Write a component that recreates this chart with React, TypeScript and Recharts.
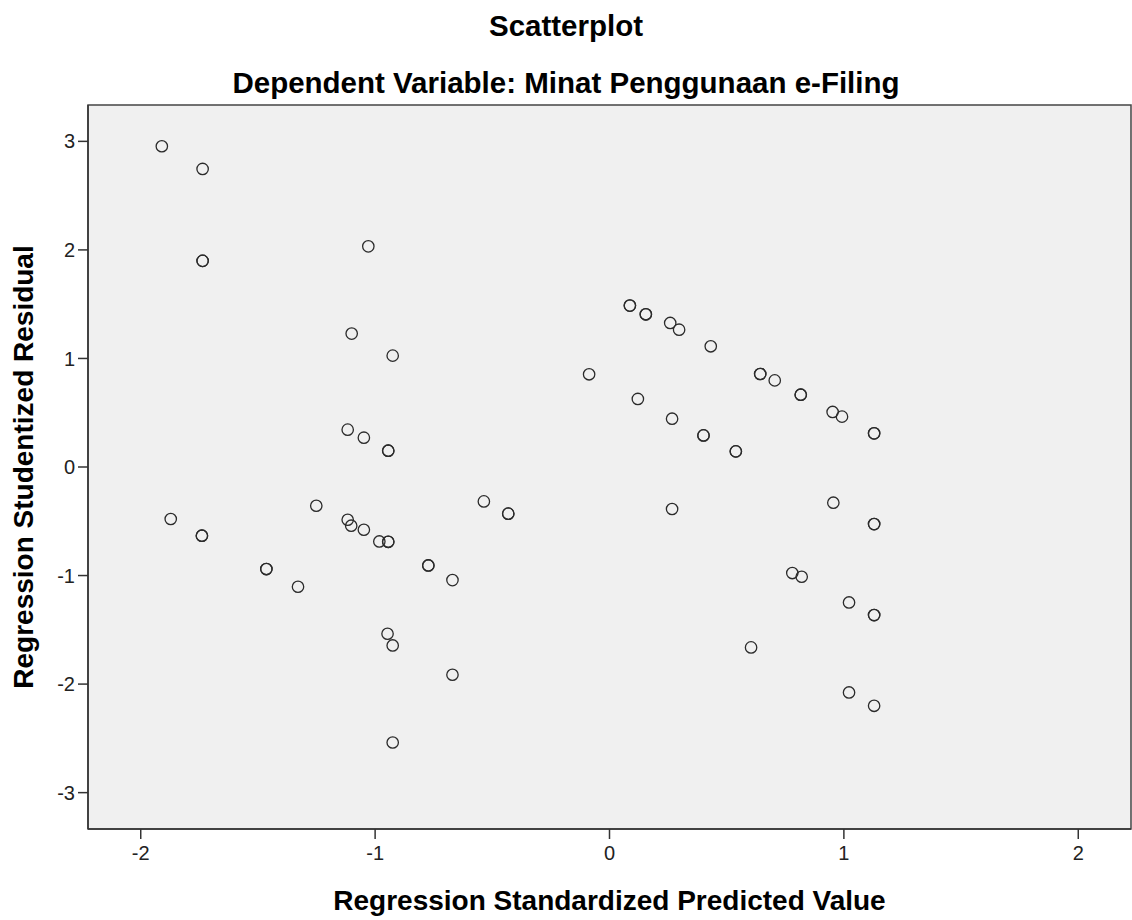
import { ReferenceArea, Scatter, ScatterChart, XAxis, YAxis } from 'recharts'

// Regression standardized predicted value (x) and studentized residual (y),
// read off the SPSS plot. Repeated pairs are cases that sit on top of each other.
const predicted = [
  -1.91, -1.736, -1.736, -1.736, -1.029, -1.1, -0.925, -1.117, -1.048, -0.944, -0.944,
  -0.087, 0.087, 0.087, 0.155, 0.155, 0.259, 0.297, 0.432, 0.643, 0.643, 0.705,
  0.121, 0.267, 0.401, 0.401, 0.539, 0.539, 0.816, 0.816, 0.952, 0.992, 1.129, 1.129,
  -1.872, -1.739, -1.739, -1.464, -1.464, -1.329, -1.251, -1.117, -1.102, -1.048,
  -0.982, -0.944, -0.944, -0.947, -0.925, -0.925,
  -0.536, -0.432, -0.432, -0.773, -0.773, -0.67, -0.67,
  0.267, 0.604, 0.955, 1.129, 1.129, 0.78, 0.82, 1.022, 1.129, 1.129, 1.022, 1.129,
]
const residual = [
  2.955, 2.746, 1.899, 1.899, 2.033, 1.229, 1.026, 0.344, 0.27, 0.15, 0.15,
  0.854, 1.487, 1.487, 1.407, 1.407, 1.327, 1.265, 1.112, 0.857, 0.857, 0.798,
  0.627, 0.445, 0.291, 0.291, 0.144, 0.144, 0.666, 0.666, 0.507, 0.464, 0.31, 0.31,
  -0.479, -0.633, -0.633, -0.94, -0.94, -1.103, -0.357, -0.486, -0.541, -0.578,
  -0.686, -0.689, -0.689, -1.536, -1.644, -2.538,
  -0.317, -0.43, -0.43, -0.907, -0.907, -1.042, -1.914,
  -0.387, -1.662, -0.329, -0.526, -0.526, -0.977, -1.011, -1.248, -1.364, -1.364, -2.077, -2.2,
]
const xTicks = [-2, -1, 0, 1, 2]
const yTicks = [-3, -2, -1, 0, 1, 2, 3]
const xDomain: [number, number] = [-2.225, 2.225]
const yDomain: [number, number] = [-3.335, 3.335]

const points = predicted.map((x, i) => ({ x, y: residual[i] }))

const ink = '#2b2b2b'
const tickStyle = { fill: '#222', fontSize: 20 }
const labelStyle = { fill: '#000', fontSize: 28, fontWeight: 'bold' as const }

function Ring(props: any) {
  const { cx, cy } = props
  if (cx == null || cy == null) return null
  return <circle cx={cx} cy={cy} r={5.7} fill="none" stroke={ink} strokeWidth={1.3} />
}

function Title({ text, top }: { text: string; top: number }) {
  return (
    <div
      style={{
        position: 'absolute', left: 0, top, width: 1132, textAlign: 'center',
        fontSize: 29.5, lineHeight: '30px', fontWeight: 'bold', color: '#000',
      }}
    >
      {text}
    </div>
  )
}

export default function App() {
  return (
    <div
      style={{
        position: 'absolute', left: 0, top: 0, width: 1132, height: 920, background: '#fff',
        fontFamily: '"Liberation Sans", Arial, sans-serif',
      }}
    >
      <ScatterChart width={1132} height={920} margin={{ top: 105, right: 1, bottom: 0, left: 0 }}>
        <ReferenceArea
          x1={xDomain[0]} x2={xDomain[1]} y1={yDomain[0]} y2={yDomain[1]}
          fill="#F0F0F0" fillOpacity={1} stroke="#444" strokeWidth={1.5} ifOverflow="visible"
        />
        <XAxis
          type="number" dataKey="x" domain={xDomain} ticks={xTicks} allowDataOverflow
          height={91} tick={tickStyle} tickSize={10} tickMargin={7}
          axisLine={{ stroke: '#333', strokeWidth: 1.5 }} tickLine={{ stroke: '#333', strokeWidth: 1.5 }}
          label={{ value: 'Regression Standardized Predicted Value', position: 'insideBottom', offset: 10, style: labelStyle }}
        />
        <YAxis
          type="number" dataKey="y" domain={yDomain} ticks={yTicks} allowDataOverflow
          width={88} tick={tickStyle} tickSize={10} tickMargin={3}
          axisLine={{ stroke: '#333', strokeWidth: 1.5 }} tickLine={{ stroke: '#333', strokeWidth: 1.5 }}
          label={{
            value: 'Regression Studentized Residual', angle: -90, position: 'insideLeft', offset: 23,
            style: { ...labelStyle, textAnchor: 'middle' },
          }}
        />
        <Scatter data={points} shape={<Ring />} isAnimationActive={false} />
      </ScatterChart>
      <Title text="Scatterplot" top={11} />
      <Title text="Dependent Variable: Minat Penggunaan e-Filing" top={68} />
    </div>
  )
}
